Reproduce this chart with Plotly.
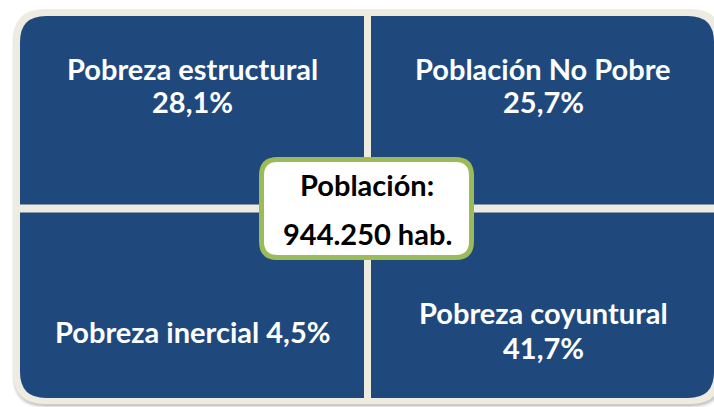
import plotly.graph_objects as go

# ---- data ----
categories = ["Pobreza estructural", "Población No Pobre", "Pobreza inercial", "Pobreza coyuntural"]
shares = [28.1, 25.7, 4.5, 41.7]
population_label = "Población:"
population = 944250
population_unit = "hab."

W, H = 714, 407
BLUE = "#1F497D"
CREAM = "#EEECE1"
GREEN = "#9BBB59"
FONT = "Lato"


def pct(v):
    return f"{v:.1f}".replace(".", ",") + "%"


def rrect(x0, y0, x1, y1, r):
    return (f"M {x0+r},{y0} L {x1-r},{y0} Q {x1},{y0} {x1},{y0+r} "
            f"L {x1},{y1-r} Q {x1},{y1} {x1-r},{y1} L {x0+r},{y1} "
            f"Q {x0},{y1} {x0},{y1-r} L {x0},{y0+r} Q {x0},{y0} {x0+r},{y0} Z")


fig = go.Figure()
fig.add_trace(go.Scatter(x=[0, W], y=[0, H], mode="markers",
                         marker=dict(opacity=0), hoverinfo="skip", showlegend=False))

shapes = []
# soft shadow
for i, op in enumerate([0.05, 0.07, 0.09]):
    d = 3 - i
    shapes.append(dict(type="path", xref="x", yref="y",
                       path=rrect(13 - d + 2, 9 + 2, 722 + d, 404 + d + 1, 32),
                       fillcolor=f"rgba(0,0,0,{op})", line=dict(width=0), layer="below"))
# cream frame
shapes.append(dict(type="path", xref="x", yref="y", path=rrect(13, 9, 722, 404, 32),
                   fillcolor=CREAM, line=dict(width=0), layer="below"))
# blue field
shapes.append(dict(type="path", xref="x", yref="y", path=rrect(20, 16, 714, 398, 26),
                   fillcolor=BLUE, line=dict(width=0), layer="below"))
# cross separators
shapes.append(dict(type="rect", xref="x", yref="y", x0=364, x1=371, y0=9, y1=404,
                   fillcolor=CREAM, line=dict(width=0), layer="below"))
shapes.append(dict(type="rect", xref="x", yref="y", x0=13, x1=722, y0=204.5, y1=212.5,
                   fillcolor=CREAM, line=dict(width=0), layer="below"))
# centre box
shapes.append(dict(type="path", xref="x", yref="y", path=rrect(261.5, 159.5, 471.5, 257.5, 16),
                   fillcolor="white", line=dict(color=GREEN, width=5), layer="above"))

fig.update_layout(shapes=shapes)

# quadrant label layout: centre x, and y for each text line
layout_pos = [
    (192, [68, 101]),
    (543, [68, 101]),
    (192, [331]),
    (543, [312, 347]),
]
for (cx, ys), cat, v in zip(layout_pos, categories, shares):
    lines = [cat, pct(v)] if len(ys) == 2 else [f"{cat} {pct(v)}"]
    for y, t in zip(ys, lines):
        fig.add_annotation(x=cx, y=y, xref="x", yref="y", text=f"<b>{t}</b>", showarrow=False,
                           font=dict(family=FONT, size=29, color="white"), align="center")

pop_txt = f"{population:,}".replace(",", ".") + " " + population_unit
fig.add_annotation(x=367, y=184, xref="x", yref="y", text=f"<b>{population_label}</b>",
                   showarrow=False, font=dict(family=FONT, size=29, color="black"))
fig.add_annotation(x=367, y=233, xref="x", yref="y", text=f"<b>{pop_txt}</b>",
                   showarrow=False, font=dict(family=FONT, size=29, color="black"))

fig.update_layout(
    width=W, height=H, margin=dict(l=0, r=0, t=0, b=0),
    paper_bgcolor="white", plot_bgcolor="white",
    xaxis=dict(range=[0, W], visible=False, fixedrange=True),
    yaxis=dict(range=[H, 0], visible=False, fixedrange=True),
    showlegend=False,
)

fig.write_html("out.html", config={"displayModeBar": False},
               post_script="document.body.style.margin='0';document.body.style.overflow='hidden';")
